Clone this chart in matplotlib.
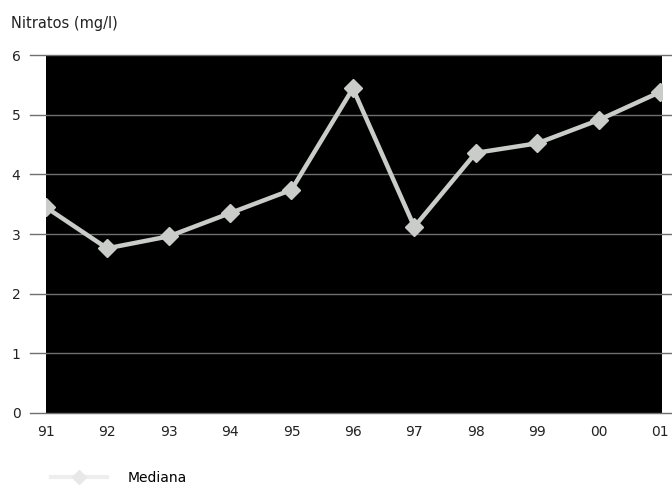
import numpy as np
import matplotlib.pyplot as plt
from matplotlib.lines import Line2D

# Data
years = ["91", "92", "93", "94", "95", "96", "97", "98", "99", "00", "01"]
mediana = [3.45, 2.76, 2.96, 3.35, 3.74, 5.44, 3.12, 4.36, 4.52, 4.91, 5.38]
y_ticks = [0, 1, 2, 3, 4, 5, 6]

LINE_COLOR = "#c9ccc9"

fig = plt.figure(figsize=(6.72, 4.87), dpi=100)
ax = fig.add_axes([0.068, 0.152, 0.917, 0.735])
ax.set_facecolor("black")

x = np.arange(len(years))
ax.plot(x, mediana, color=LINE_COLOR, linewidth=3.2, marker="D",
        markersize=9, markerfacecolor=LINE_COLOR, markeredgecolor=LINE_COLOR,
        zorder=3)

ax.set_xlim(0, len(years) - 1 + 0.03)
ax.set_ylim(0, 6)

# gridlines extend left as tick marks and past the right edge
ytr = ax.get_yaxis_transform()
for v in y_ticks:
    ax.plot([-0.026, 1.02], [v, v], transform=ytr, color="#6f6f6f",
            linewidth=1.0, clip_on=False, zorder=2)

for s in ax.spines.values():
    s.set_visible(False)

ax.set_yticks(y_ticks)
ax.set_yticklabels([str(v) for v in y_ticks], fontsize=10, color="#222222")
for lab in ax.get_yticklabels():
    lab.set_horizontalalignment("left")
ax.tick_params(axis="y", length=0, pad=24.5)
ax.set_xticks(x)
ax.set_xticklabels(years, fontsize=10, color="#222222")
ax.tick_params(axis="x", length=0, pad=9)

fig.text(0.017, 0.952, "Nitratos (mg/l)", fontsize=10.5, color="#222222",
         ha="left", va="center")

# legend
leg_handle = Line2D([], [], color="#eeeeee", linewidth=3, marker="D",
                    markersize=7, markerfacecolor="#e8e8e8",
                    markeredgecolor="#e8e8e8")
fig.legend([leg_handle], ["Mediana"], loc="center left",
           bbox_to_anchor=(0.058, 0.018), frameon=False, fontsize=10,
           handlelength=4.0, handletextpad=1.5)

fig.savefig("out.png", dpi=100)
